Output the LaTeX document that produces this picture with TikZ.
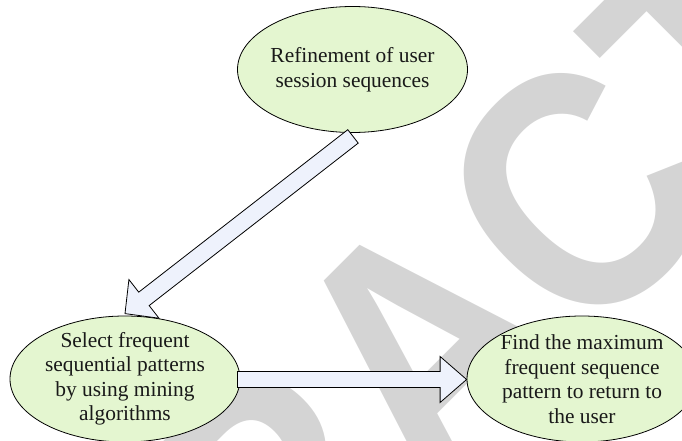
\documentclass[tikz,border=0pt]{standalone}
\usepackage{fontspec}
\setmainfont{Liberation Serif}
\newfontfamily\stampfont{Liberation Sans}
\usetikzlibrary{shapes.geometric,calc}

\definecolor{bubblegreen}{RGB}{228,246,208}
\definecolor{arrowblue}{RGB}{238,242,252}
\definecolor{stampgrey}{RGB}{212,212,212}

% Hollow block arrow from #1 (tail) to #2 (tip); #3 names its helper point,
% #4 = half width of the shaft, #5 = half width of the head, #6 = head length.
\newcommand\blockarrow[6]{%
  \coordinate (#3-base) at ($(#2)!#6!(#1)$);
  \draw[blockarrow]
    ($(#1)!#4!90:(#2)$) -- ($(#3-base)!#4!90:(#2)$) --
    ($(#3-base)!#5!90:(#2)$) -- (#2) --
    ($(#3-base)!#5!-90:(#2)$) -- ($(#3-base)!#4!-90:(#2)$) --
    ($(#1)!#4!-90:(#2)$) -- cycle;
}

\tikzset{
  bubble/.style={ellipse, draw=black, line width=0.8pt, fill=bubblegreen,
    minimum width=230pt, minimum height=126pt, inner sep=0pt},
  bubbletext/.style={align=center, inner sep=0pt, text=black!90,
    font=\fontsize{21.4pt}{24.5pt}\selectfont},
  blockarrow/.style={draw=black, line width=0.8pt, fill=arrowblue, line join=miter},
  stamp/.style={anchor=base, rotate=45, xscale=0.876, inner sep=0pt, text=stampgrey,
    font=\stampfont\bfseries\fontsize{340pt}{340pt}\selectfont}
}

\begin{document}
\begin{tikzpicture}[x=1pt, y=-1pt]
\useasboundingbox (0,0) rectangle (682,441);

% background stamp
\begin{scope}
  \clip (0,0) rectangle (682,441);
  \node[stamp] (stampword) at (508,428) {RETRACTED};
\end{scope}

% the three stages
\node[bubble] (refine) at (352.5,69.5) {};
\node[bubbletext] (refinetext) at (refine) {Refinement of user\\session sequences};

\node[bubble] (select) at (125,379) {};
\node[bubbletext] (selecttext) at (select) {Select frequent\\sequential patterns\\by using mining\\algorithms};

\node[bubble] (findmax) at (582,379) {};
\node[bubbletext] (findmaxtext) at (findmax) {Find the maximum\\frequent sequence\\pattern to return to\\the user};

% block arrows between the stages
\coordinate (diagtail) at ($(refine.south)+(0.5,3.5)$);
\coordinate (diagtip) at ($(select.north)+(0,-2)$);
\blockarrow{diagtail}{diagtip}{diag}{8.5pt}{24.5pt}{24pt}

\coordinate (horiztail) at ($(select.east)+(-3,0.5)$);
\coordinate (horiztip) at ($(findmax.west)+(0,0.5)$);
\blockarrow{horiztail}{horiztip}{horiz}{8pt}{23pt}{26.5pt}

\end{tikzpicture}
\end{document}
